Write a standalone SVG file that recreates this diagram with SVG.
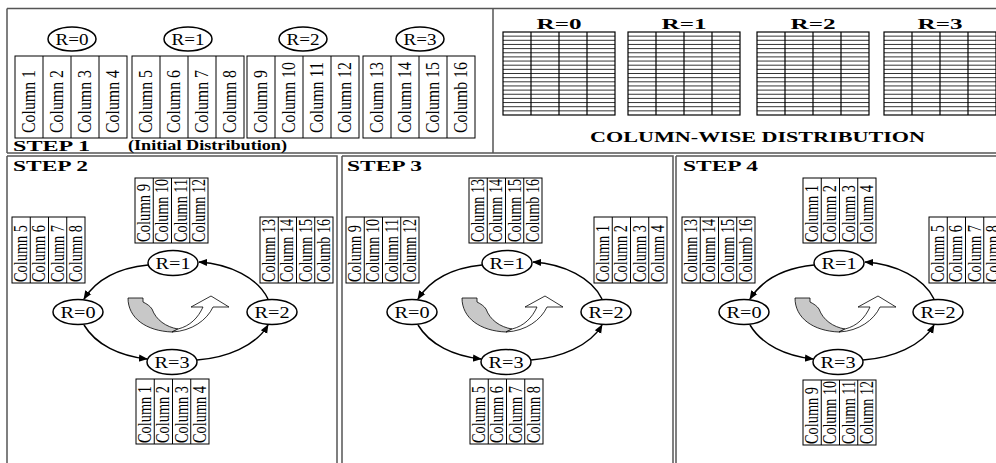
<svg xmlns="http://www.w3.org/2000/svg" xmlns:xlink="http://www.w3.org/1999/xlink" width="996" height="463" viewBox="0 0 996 463">
<style>
.frame{fill:none;stroke:#555;stroke-width:1.5}
.box{fill:#fff;stroke:#000;stroke-width:1}
.big{font-family:"Liberation Serif",serif;font-size:19px;fill:#000}
.sm{font-family:"Liberation Serif",serif;font-size:18px;fill:#000}
.nd{fill:#fff;stroke:#000;stroke-width:1.5}
.nt{font-family:"Liberation Serif",serif;font-size:16px;fill:#000;text-anchor:middle}
.hd{font-family:"Liberation Serif",serif;font-weight:bold;font-size:14px;fill:#000}
.lab{font-family:"Liberation Serif",serif;font-weight:bold;font-size:14px;fill:#000;text-anchor:middle}
.edge{fill:none;stroke:#000;stroke-width:1.5;marker-end:url(#ah)}
.gl{stroke:#000;stroke-width:0.8;fill:none}
</style>
<defs>
<marker id="ah" viewBox="0 0 10 10" refX="9" refY="5" markerWidth="9" markerHeight="9" markerUnits="userSpaceOnUse" orient="auto"><path d="M0,1 L10,5 L0,9 Z" fill="#000"/></marker>
<g id="grid">
<rect x="0" y="0" width="112" height="83" fill="#fff" stroke="#000" stroke-width="1.2"/>
<path class="gl" d="M0,4.15H112M0,8.3H112M0,12.45H112M0,16.6H112M0,20.75H112M0,24.9H112M0,29.05H112M0,33.2H112M0,37.35H112M0,41.5H112M0,45.65H112M0,49.8H112M0,53.95H112M0,58.1H112M0,62.25H112M0,66.4H112M0,70.55H112M0,74.7H112M0,78.85H112"/>
<path d="M28,0V83M56,0V83M84,0V83" stroke="#000" stroke-width="1.2"/>
</g>
<g id="uturn">
<path d="M128,298 L143,298 L143,302 C147,304 150,306 152,309 C156,320 166,327 178,329 L172,332 C146,331 128,318 128,298 Z" fill="#c8c8c8" stroke="#000" stroke-width="0.8"/>
<path d="M172,332 C192,331 207,320 213,307 L229,307 L211,296 L191,307 L203,307 C198,318 190,326 178,329 Z" fill="#fff" stroke="#000" stroke-width="0.8"/>
</g>
</defs>
<rect x="0" y="0" width="996" height="463" fill="#fff"/>

<!-- frames -->
<g id="frames">
<path class="frame" d="M7,8.5H996M7,8.5V153M493,8.5V153M7,153H996"/>
<path class="frame" d="M7,156H337V470M7,156V470M342,156H673V470M342,156V470M676,156H996M676,156V470"/>
</g>

<!-- STEP 1 -->
<g id="step1">
<text class="hd" x="13" y="151" textLength="77" lengthAdjust="spacingAndGlyphs">STEP 1</text>
<text class="hd" x="128" y="150" font-size="13" textLength="159" lengthAdjust="spacingAndGlyphs">(Initial Distribution)</text>
</g>
<g id="s1-r0">
<ellipse class="nd" cx="72" cy="39" rx="24" ry="12"/>
<text class="nt" x="72" y="45" font-size="17" textLength="33" lengthAdjust="spacingAndGlyphs">R=0</text>
<rect class="box" x="15" y="56" width="112" height="82"/>
<path d="M43,56V138M71,56V138M99,56V138" stroke="#000"/>
<text class="big" transform="translate(35,133) rotate(-90)" textLength="63" lengthAdjust="spacingAndGlyphs">Column 1</text>
<text class="big" transform="translate(63,133) rotate(-90)" textLength="63" lengthAdjust="spacingAndGlyphs">Column 2</text>
<text class="big" transform="translate(91,133) rotate(-90)" textLength="63" lengthAdjust="spacingAndGlyphs">Column 3</text>
<text class="big" transform="translate(119,133) rotate(-90)" textLength="63" lengthAdjust="spacingAndGlyphs">Column 4</text>
</g>
<g id="s1-r1">
<ellipse class="nd" cx="188" cy="39" rx="24" ry="12"/>
<text class="nt" x="188" y="45" font-size="17" textLength="33" lengthAdjust="spacingAndGlyphs">R=1</text>
<rect class="box" x="132" y="56" width="112" height="82"/>
<path d="M160,56V138M188,56V138M216,56V138" stroke="#000"/>
<text class="big" transform="translate(152,133) rotate(-90)" textLength="63" lengthAdjust="spacingAndGlyphs">Column 5</text>
<text class="big" transform="translate(180,133) rotate(-90)" textLength="63" lengthAdjust="spacingAndGlyphs">Column 6</text>
<text class="big" transform="translate(208,133) rotate(-90)" textLength="63" lengthAdjust="spacingAndGlyphs">Column 7</text>
<text class="big" transform="translate(236,133) rotate(-90)" textLength="63" lengthAdjust="spacingAndGlyphs">Column 8</text>
</g>
<g id="s1-r2">
<ellipse class="nd" cx="303" cy="39" rx="24" ry="12"/>
<text class="nt" x="303" y="45" font-size="17" textLength="33" lengthAdjust="spacingAndGlyphs">R=2</text>
<rect class="box" x="247" y="56" width="112" height="82"/>
<path d="M275,56V138M303,56V138M331,56V138" stroke="#000"/>
<text class="big" transform="translate(267,133) rotate(-90)" textLength="63" lengthAdjust="spacingAndGlyphs">Column 9</text>
<text class="big" transform="translate(295,133) rotate(-90)" textLength="71" lengthAdjust="spacingAndGlyphs">Column 10</text>
<text class="big" transform="translate(323,133) rotate(-90)" textLength="71" lengthAdjust="spacingAndGlyphs">Column 11</text>
<text class="big" transform="translate(351,133) rotate(-90)" textLength="71" lengthAdjust="spacingAndGlyphs">Column 12</text>
</g>
<g id="s1-r3">
<ellipse class="nd" cx="420" cy="39" rx="24" ry="12"/>
<text class="nt" x="420" y="45" font-size="17" textLength="33" lengthAdjust="spacingAndGlyphs">R=3</text>
<rect class="box" x="363" y="56" width="112" height="82"/>
<path d="M391,56V138M419,56V138M447,56V138" stroke="#000"/>
<text class="big" transform="translate(383,133) rotate(-90)" textLength="71" lengthAdjust="spacingAndGlyphs">Column 13</text>
<text class="big" transform="translate(411,133) rotate(-90)" textLength="71" lengthAdjust="spacingAndGlyphs">Column 14</text>
<text class="big" transform="translate(439,133) rotate(-90)" textLength="71" lengthAdjust="spacingAndGlyphs">Column 15</text>
<text class="big" transform="translate(467,133) rotate(-90)" textLength="71" lengthAdjust="spacingAndGlyphs">Columb 16</text>
</g>

<!-- column-wise distribution -->
<g id="colwise">
<text class="lab" x="559" y="29" textLength="45" lengthAdjust="spacingAndGlyphs">R=0</text>
<text class="lab" x="684" y="29" textLength="45" lengthAdjust="spacingAndGlyphs">R=1</text>
<text class="lab" x="813" y="29" textLength="45" lengthAdjust="spacingAndGlyphs">R=2</text>
<text class="lab" x="940" y="29" textLength="45" lengthAdjust="spacingAndGlyphs">R=3</text>
<use xlink:href="#grid" x="503" y="32"/>
<use xlink:href="#grid" x="628" y="32"/>
<use xlink:href="#grid" x="757" y="32"/>
<use xlink:href="#grid" x="884" y="32"/>
<text class="hd" x="590" y="142" font-size="15" textLength="335" lengthAdjust="spacingAndGlyphs">COLUMN-WISE DISTRIBUTION</text>
</g>

<!-- STEP 2 -->
<g id="step2">
<text class="hd" x="13" y="171" font-size="13" textLength="75" lengthAdjust="spacingAndGlyphs">STEP 2</text>
<use xlink:href="#uturn"/>
</g>
<g id="s2-top">
<rect class="box" x="135" y="178" width="73" height="65"/>
<path d="M153.25,178V243M171.5,178V243M189.75,178V243" stroke="#000"/>
<text class="sm" transform="translate(150,242) rotate(-90)" textLength="58" lengthAdjust="spacingAndGlyphs">Column 9</text>
<text class="sm" transform="translate(168.25,242) rotate(-90)" textLength="63" lengthAdjust="spacingAndGlyphs">Column 10</text>
<text class="sm" transform="translate(186.5,242) rotate(-90)" textLength="63" lengthAdjust="spacingAndGlyphs">Column 11</text>
<text class="sm" transform="translate(204.75,242) rotate(-90)" textLength="63" lengthAdjust="spacingAndGlyphs">Column 12</text>
</g>
<g id="s2-left">
<rect class="box" x="12" y="217" width="73" height="66"/>
<path d="M30.25,217V283M48.5,217V283M66.75,217V283" stroke="#000"/>
<text class="sm" transform="translate(27,282) rotate(-90)" textLength="57" lengthAdjust="spacingAndGlyphs">Column 5</text>
<text class="sm" transform="translate(45.25,282) rotate(-90)" textLength="57" lengthAdjust="spacingAndGlyphs">Column 6</text>
<text class="sm" transform="translate(63.5,282) rotate(-90)" textLength="57" lengthAdjust="spacingAndGlyphs">Column 7</text>
<text class="sm" transform="translate(81.75,282) rotate(-90)" textLength="57" lengthAdjust="spacingAndGlyphs">Column 8</text>
</g>
<g id="s2-right">
<rect class="box" x="260" y="217" width="73" height="66"/>
<path d="M278.25,217V283M296.5,217V283M314.75,217V283" stroke="#000"/>
<text class="sm" transform="translate(275,282) rotate(-90)" textLength="63" lengthAdjust="spacingAndGlyphs">Column 13</text>
<text class="sm" transform="translate(293.25,282) rotate(-90)" textLength="63" lengthAdjust="spacingAndGlyphs">Column 14</text>
<text class="sm" transform="translate(311.5,282) rotate(-90)" textLength="63" lengthAdjust="spacingAndGlyphs">Column 15</text>
<text class="sm" transform="translate(329.75,282) rotate(-90)" textLength="63" lengthAdjust="spacingAndGlyphs">Columb 16</text>
</g>
<g id="s2-bottom">
<rect class="box" x="136" y="379" width="73" height="65"/>
<path d="M154.25,379V444M172.5,379V444M190.75,379V444" stroke="#000"/>
<text class="sm" transform="translate(151,443) rotate(-90)" textLength="57" lengthAdjust="spacingAndGlyphs">Column 1</text>
<text class="sm" transform="translate(169.25,443) rotate(-90)" textLength="57" lengthAdjust="spacingAndGlyphs">Column 2</text>
<text class="sm" transform="translate(187.5,443) rotate(-90)" textLength="57" lengthAdjust="spacingAndGlyphs">Column 3</text>
<text class="sm" transform="translate(205.75,443) rotate(-90)" textLength="57" lengthAdjust="spacingAndGlyphs">Column 4</text>
</g>
<g id="s2-n1"><ellipse class="nd" cx="173" cy="263" rx="25" ry="12.5"/><text class="nt" x="173" y="269" textLength="35" lengthAdjust="spacingAndGlyphs">R=1</text></g>
<g id="s2-n0"><ellipse class="nd" cx="78" cy="312" rx="25" ry="12.5"/><text class="nt" x="78" y="318" textLength="35" lengthAdjust="spacingAndGlyphs">R=0</text></g>
<g id="s2-n2"><ellipse class="nd" cx="272" cy="312" rx="25" ry="12.5"/><text class="nt" x="272" y="318" textLength="35" lengthAdjust="spacingAndGlyphs">R=2</text></g>
<g id="s2-n3"><ellipse class="nd" cx="172" cy="362" rx="25" ry="12.5"/><text class="nt" x="172" y="368" textLength="35" lengthAdjust="spacingAndGlyphs">R=3</text></g>

<!-- STEP 3 -->
<g id="step3">
<text class="hd" x="347" y="171" font-size="13" textLength="75" lengthAdjust="spacingAndGlyphs">STEP 3</text>
<use xlink:href="#uturn" x="334"/>
</g>
<g id="s3-top">
<rect class="box" x="469" y="178" width="73" height="65"/>
<path d="M487.25,178V243M505.5,178V243M523.75,178V243" stroke="#000"/>
<text class="sm" transform="translate(484,242) rotate(-90)" textLength="63" lengthAdjust="spacingAndGlyphs">Column 13</text>
<text class="sm" transform="translate(502.25,242) rotate(-90)" textLength="63" lengthAdjust="spacingAndGlyphs">Column 14</text>
<text class="sm" transform="translate(520.5,242) rotate(-90)" textLength="63" lengthAdjust="spacingAndGlyphs">Column 15</text>
<text class="sm" transform="translate(538.75,242) rotate(-90)" textLength="63" lengthAdjust="spacingAndGlyphs">Columb 16</text>
</g>
<g id="s3-left">
<rect class="box" x="346" y="217" width="73" height="66"/>
<path d="M364.25,217V283M382.5,217V283M400.75,217V283" stroke="#000"/>
<text class="sm" transform="translate(361,282) rotate(-90)" textLength="57" lengthAdjust="spacingAndGlyphs">Column 9</text>
<text class="sm" transform="translate(379.25,282) rotate(-90)" textLength="63" lengthAdjust="spacingAndGlyphs">Column 10</text>
<text class="sm" transform="translate(397.5,282) rotate(-90)" textLength="63" lengthAdjust="spacingAndGlyphs">Column 11</text>
<text class="sm" transform="translate(415.75,282) rotate(-90)" textLength="63" lengthAdjust="spacingAndGlyphs">Column 12</text>
</g>
<g id="s3-right">
<rect class="box" x="594" y="217" width="73" height="66"/>
<path d="M612.25,217V283M630.5,217V283M648.75,217V283" stroke="#000"/>
<text class="sm" transform="translate(609,282) rotate(-90)" textLength="57" lengthAdjust="spacingAndGlyphs">Column 1</text>
<text class="sm" transform="translate(627.25,282) rotate(-90)" textLength="57" lengthAdjust="spacingAndGlyphs">Column 2</text>
<text class="sm" transform="translate(645.5,282) rotate(-90)" textLength="57" lengthAdjust="spacingAndGlyphs">Column 3</text>
<text class="sm" transform="translate(663.75,282) rotate(-90)" textLength="57" lengthAdjust="spacingAndGlyphs">Column 4</text>
</g>
<g id="s3-bottom">
<rect class="box" x="470" y="379" width="73" height="65"/>
<path d="M488.25,379V444M506.5,379V444M524.75,379V444" stroke="#000"/>
<text class="sm" transform="translate(485,443) rotate(-90)" textLength="57" lengthAdjust="spacingAndGlyphs">Column 5</text>
<text class="sm" transform="translate(503.25,443) rotate(-90)" textLength="57" lengthAdjust="spacingAndGlyphs">Column 6</text>
<text class="sm" transform="translate(521.5,443) rotate(-90)" textLength="57" lengthAdjust="spacingAndGlyphs">Column 7</text>
<text class="sm" transform="translate(539.75,443) rotate(-90)" textLength="57" lengthAdjust="spacingAndGlyphs">Column 8</text>
</g>
<g id="s3-n1"><ellipse class="nd" cx="507" cy="263" rx="25" ry="12.5"/><text class="nt" x="507" y="269" textLength="35" lengthAdjust="spacingAndGlyphs">R=1</text></g>
<g id="s3-n0"><ellipse class="nd" cx="412" cy="312" rx="25" ry="12.5"/><text class="nt" x="412" y="318" textLength="35" lengthAdjust="spacingAndGlyphs">R=0</text></g>
<g id="s3-n2"><ellipse class="nd" cx="606" cy="312" rx="25" ry="12.5"/><text class="nt" x="606" y="318" textLength="35" lengthAdjust="spacingAndGlyphs">R=2</text></g>
<g id="s3-n3"><ellipse class="nd" cx="506" cy="362" rx="25" ry="12.5"/><text class="nt" x="506" y="368" textLength="35" lengthAdjust="spacingAndGlyphs">R=3</text></g>

<!-- STEP 4 -->
<g id="step4">
<text class="hd" x="683" y="171" font-size="13" textLength="75" lengthAdjust="spacingAndGlyphs">STEP 4</text>
<use xlink:href="#uturn" x="667"/>
</g>
<g id="s4-top">
<rect class="box" x="803" y="178" width="73" height="65"/>
<path d="M821.25,178V243M839.5,178V243M857.75,178V243" stroke="#000"/>
<text class="sm" transform="translate(818,242) rotate(-90)" textLength="57" lengthAdjust="spacingAndGlyphs">Column 1</text>
<text class="sm" transform="translate(836.25,242) rotate(-90)" textLength="57" lengthAdjust="spacingAndGlyphs">Column 2</text>
<text class="sm" transform="translate(854.5,242) rotate(-90)" textLength="57" lengthAdjust="spacingAndGlyphs">Column 3</text>
<text class="sm" transform="translate(872.75,242) rotate(-90)" textLength="57" lengthAdjust="spacingAndGlyphs">Column 4</text>
</g>
<g id="s4-left">
<rect class="box" x="682" y="217" width="73" height="66"/>
<path d="M700.25,217V283M718.5,217V283M736.75,217V283" stroke="#000"/>
<text class="sm" transform="translate(697,282) rotate(-90)" textLength="63" lengthAdjust="spacingAndGlyphs">Column 13</text>
<text class="sm" transform="translate(715.25,282) rotate(-90)" textLength="63" lengthAdjust="spacingAndGlyphs">Column 14</text>
<text class="sm" transform="translate(733.5,282) rotate(-90)" textLength="63" lengthAdjust="spacingAndGlyphs">Column 15</text>
<text class="sm" transform="translate(751.75,282) rotate(-90)" textLength="63" lengthAdjust="spacingAndGlyphs">Columb 16</text>
</g>
<g id="s4-right">
<rect class="box" x="929" y="217" width="73" height="66"/>
<path d="M947.25,217V283M965.5,217V283M983.75,217V283" stroke="#000"/>
<text class="sm" transform="translate(944,282) rotate(-90)" textLength="57" lengthAdjust="spacingAndGlyphs">Column 5</text>
<text class="sm" transform="translate(962.25,282) rotate(-90)" textLength="57" lengthAdjust="spacingAndGlyphs">Column 6</text>
<text class="sm" transform="translate(980.5,282) rotate(-90)" textLength="57" lengthAdjust="spacingAndGlyphs">Column 7</text>
<text class="sm" transform="translate(998.75,282) rotate(-90)" textLength="57" lengthAdjust="spacingAndGlyphs">Column 8</text>
</g>
<g id="s4-bottom">
<rect class="box" x="803" y="380" width="73" height="65"/>
<path d="M821.25,380V445M839.5,380V445M857.75,380V445" stroke="#000"/>
<text class="sm" transform="translate(818,444) rotate(-90)" textLength="57" lengthAdjust="spacingAndGlyphs">Column 9</text>
<text class="sm" transform="translate(836.25,444) rotate(-90)" textLength="63" lengthAdjust="spacingAndGlyphs">Column 10</text>
<text class="sm" transform="translate(854.5,444) rotate(-90)" textLength="63" lengthAdjust="spacingAndGlyphs">Column 11</text>
<text class="sm" transform="translate(872.75,444) rotate(-90)" textLength="63" lengthAdjust="spacingAndGlyphs">Column 12</text>
</g>
<g id="s4-n1"><ellipse class="nd" cx="839" cy="263" rx="25" ry="12.5"/><text class="nt" x="839" y="269" textLength="35" lengthAdjust="spacingAndGlyphs">R=1</text></g>
<g id="s4-n0"><ellipse class="nd" cx="744" cy="312" rx="25" ry="12.5"/><text class="nt" x="744" y="318" textLength="35" lengthAdjust="spacingAndGlyphs">R=0</text></g>
<g id="s4-n2"><ellipse class="nd" cx="938" cy="312" rx="25" ry="12.5"/><text class="nt" x="938" y="318" textLength="35" lengthAdjust="spacingAndGlyphs">R=2</text></g>
<g id="s4-n3"><ellipse class="nd" cx="838" cy="362" rx="25" ry="12.5"/><text class="nt" x="838" y="368" textLength="35" lengthAdjust="spacingAndGlyphs">R=3</text></g>

<!-- connectors -->
<g id="connectors">
<path class="edge" d="M268,299 C258,278 230,264 199,262"/>
<path class="edge" d="M148,265 C118,268 96,280 84,299"/>
<path class="edge" d="M84,325 C96,345 120,356 147,359"/>
<path class="edge" d="M197,360 C226,358 256,346 268,325"/>
<path class="edge" d="M602,299 C592,278 564,264 533,262"/>
<path class="edge" d="M482,265 C452,268 430,280 418,299"/>
<path class="edge" d="M418,325 C430,345 454,356 481,359"/>
<path class="edge" d="M531,360 C560,358 590,346 602,325"/>
<path class="edge" d="M934,299 C924,278 896,264 865,262"/>
<path class="edge" d="M814,265 C784,268 762,280 750,299"/>
<path class="edge" d="M750,325 C762,345 786,356 813,359"/>
<path class="edge" d="M863,360 C892,358 922,346 934,325"/>
</g>
</svg>
